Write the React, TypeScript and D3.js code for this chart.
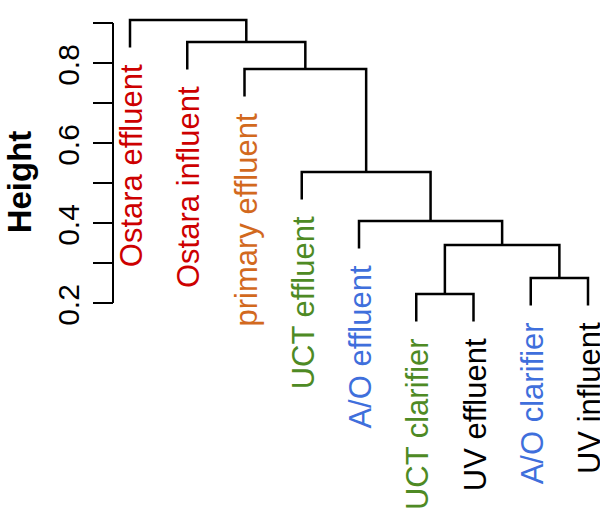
import React from "react";
import * as d3 from "d3";

const labels = [
  "Ostara effluent",
  "Ostara influent",
  "primary effluent",
  "UCT effluent",
  "A/O effluent",
  "UCT clarifier",
  "UV effluent",
  "A/O clarifier",
  "UV influent",
];
const labelColors = [
  "#CD0000",
  "#CD0000",
  "#D2691E",
  "#4E8A24",
  "#3F6FDC",
  "#4E8A24",
  "#000000",
  "#3F6FDC",
  "#000000",
];
// R-style merge matrix: negative = leaf index (1-based), positive = earlier merge step
const mergeLeft = [-6, -8, 1, -5, -4, -3, -2, -1];
const mergeRight = [-7, -9, 2, 3, 4, 5, 6, 7];
const mergeHeights = [0.2225, 0.2625, 0.345, 0.405, 0.5275, 0.785, 0.8525, 0.9075];
const tickValues = [0.2, 0.3, 0.4, 0.5, 0.6, 0.7, 0.8, 0.9];
const tickLabels = ["0.2", "", "0.4", "", "0.6", "", "0.8", ""];

const W = 600;
const H = 509;
const FONT = "'Liberation Sans', Arial, Helvetica, sans-serif";

export default function App() {
  const x = d3.scalePoint<string>().domain(labels).range([130, 588]);
  const y = d3.scaleLinear().domain([0.2, 0.9]).range([303, 23]);
  const hang = 0.1 * (d3.max(mergeHeights)! - d3.min(mergeHeights)!);

  const nodeX: number[] = [];
  const segs: string[] = [];
  const leafEnds: { i: number; yEnd: number }[] = [];

  const childX = (c: number) => (c < 0 ? x(labels[-c - 1])! : nodeX[c - 1]);
  mergeHeights.forEach((h, k) => {
    const l = mergeLeft[k];
    const r = mergeRight[k];
    const xl = childX(l);
    const xr = childX(r);
    nodeX[k] = (xl + xr) / 2;
    const yh = y(h);
    const yl = l < 0 ? y(h - hang) : y(mergeHeights[l - 1]);
    const yr = r < 0 ? y(h - hang) : y(mergeHeights[r - 1]);
    if (l < 0) leafEnds.push({ i: -l - 1, yEnd: yl });
    if (r < 0) leafEnds.push({ i: -r - 1, yEnd: yr });
    const p = d3.path();
    p.moveTo(xl, yl);
    p.lineTo(xl, yh);
    p.lineTo(xr, yh);
    p.lineTo(xr, yr);
    segs.push(p.toString());
  });

  const axisX = 113;
  const fs = 31;

  return (
    <svg
      width={W}
      height={H}
      style={{ position: "absolute", left: 0, top: 0, background: "#fff" }}
      fontFamily={FONT}
    >
      <rect width={W} height={H} fill="#fff" />
      {/* axis */}
      <line
        x1={axisX}
        x2={axisX}
        y1={y(0.2)}
        y2={y(0.9)}
        stroke="#000"
        strokeWidth={2}
      />
      {tickValues.map((t, i) => (
        <g key={i}>
          <line x1={axisX - 20} x2={axisX} y1={y(t)} y2={y(t)} stroke="#000" strokeWidth={2} />
          {tickLabels[i] && (
            <text
              transform={`translate(79,${y(t) + 2}) rotate(-90)`}
              textAnchor="middle"
              fontSize={30}
              fill="#000"
            >
              {tickLabels[i]}
            </text>
          )}
        </g>
      ))}
      <text
        transform={`translate(31,182) rotate(-90)`}
        textAnchor="middle"
        fontSize={33}
        fontWeight="bold"
        fill="#000"
      >
        Height
      </text>
      {/* dendrogram */}
      {segs.map((d, i) => (
        <path key={i} d={d} fill="none" stroke="#000" strokeWidth={2.5} />
      ))}
      {leafEnds.map(({ i, yEnd }) => (
        <text
          key={i}
          transform={`translate(${x(labels[i])! + 12},${yEnd + 17}) rotate(-90)`}
          textAnchor="end"
          fontSize={fs}
          fill={labelColors[i]}
        >
          {labels[i]}
        </text>
      ))}
    </svg>
  );
}
